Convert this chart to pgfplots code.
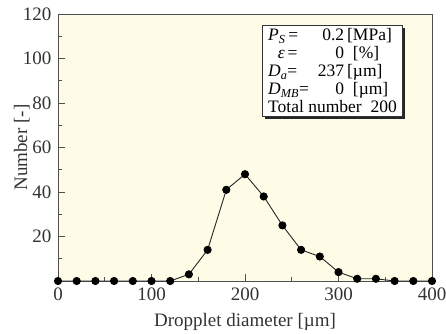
\documentclass[border=0pt]{standalone}
\usepackage{fontspec}
\setmainfont{Liberation Serif}
\usepackage{pgfplots}
\pgfplotsset{compat=1.18}
\usetikzlibrary{shadows}
\definecolor{cream}{RGB}{254,252,230}
\definecolor{frame}{RGB}{80,80,80}
\newcommand{\lrow}[3]{\makebox[41pt][l]{#1}\makebox[35pt][r]{#2}#3}
\begin{document}
\fontsize{19}{22}\selectfont
\begin{tikzpicture}
\begin{axis}[
  scale only axis,
  width=374pt, height=267pt,
  xmin=0, xmax=400, ymin=0, ymax=120,
  axis background/.style={fill=cream},
  axis line style={frame, line width=0.8pt},
  every tick/.style={frame, line width=0.8pt},
  tick pos=left,
  tick align=inside,
  major tick length=7pt,
  minor tick length=4pt,
  xtick={0,100,200,300,400},
  minor xtick={50,150,250,350},
  ytick={20,40,60,80,100,120},
  minor ytick={10,30,50,70,90,110},
  /pgf/number format/assume math mode=true,
  tick label style={font=\fontsize{19}{22}\selectfont, text=black!80},
  label style={font=\fontsize{19}{22}\selectfont, text=black!80},
  xlabel={Dropplet diameter [µm]},
  ylabel={Number [-]},
  xlabel style={at={(axis description cs:0.5,-0.154)}, anchor=center},
  ylabel style={at={(axis description cs:-0.097,0.5)}, anchor=center},
  clip=false,
]
\addplot[black!85, line width=0.9pt, mark=*, mark size=3.6pt, mark options={fill=black, draw=black}] coordinates {
(0,0) (20,0) (40,0) (60,0) (80,0) (100,0) (120,0) (140,3) (160,14) (180,41)
(200,48) (220,38) (240,25) (260,14) (280,11) (300,4) (320,1) (340,1) (360,0) (380,0) (400,0)
};
\node[draw=black!80, line width=0.8pt, fill=white, drop shadow={shadow xshift=2.5pt, shadow yshift=-2.5pt, fill=black!85, opacity=1},
  anchor=north west, inner xsep=6pt, inner ysep=3.5pt, font=\fontsize{17.5}{18}\selectfont, align=left]
  at (rel axis cs:0.545,0.959) {%
  \lrow{\textit{P}\textsubscript{\textit{S}}\,=}{0.2}{\,[MPa]}\\
  \lrow{\hspace{0.55em}\textit{ε}\,=}{0}{\ \ [\%]}\\
  \lrow{\textit{D}\textsubscript{\textit{a}}=}{237}{\,[µm]}\\
  \lrow{\textit{D}\textsubscript{\textit{MB}}=}{0}{\ \ [µm]}\\
  Total number\ \ 200};
\end{axis}
\pgfresetboundingbox
\path[use as bounding box] (current axis.south west) ++(-58pt,-52pt) rectangle ++(446pt,333pt);
\end{tikzpicture}
\end{document}
